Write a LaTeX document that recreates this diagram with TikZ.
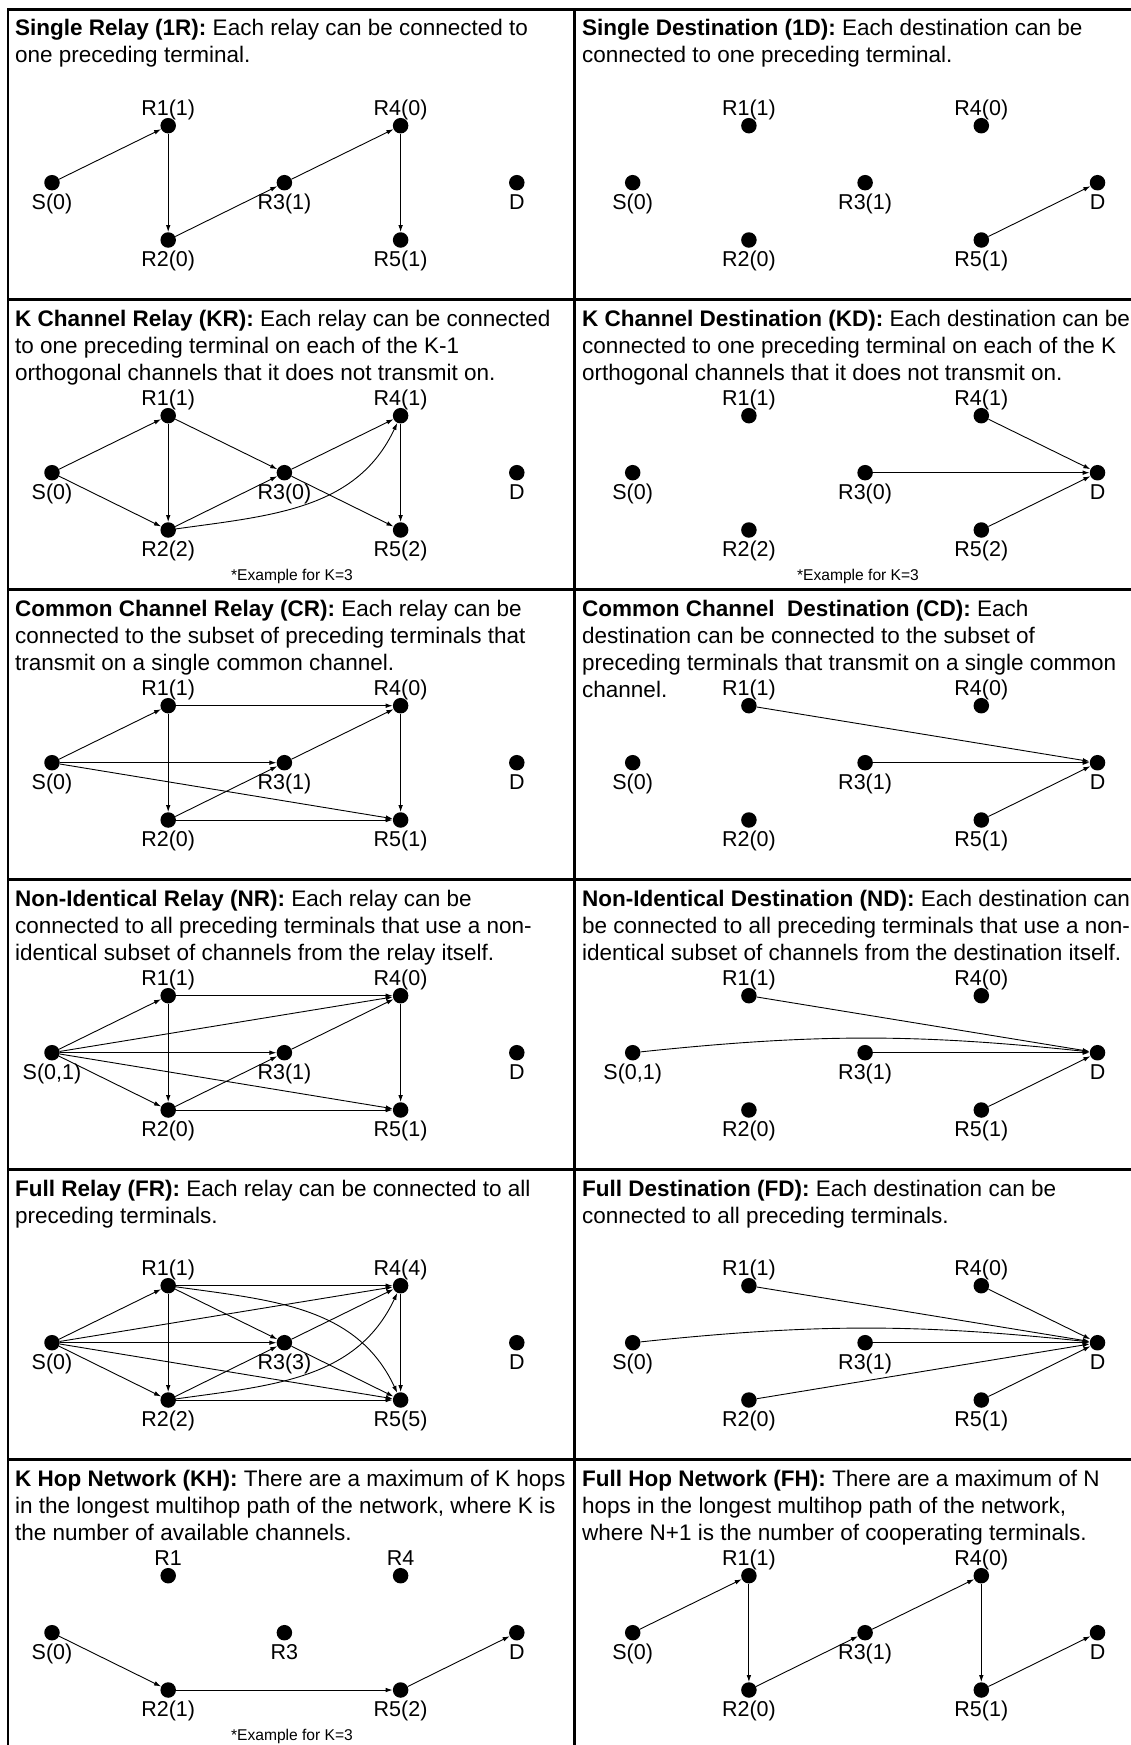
\documentclass[tikz,border=0pt]{standalone}
\usepackage{fontspec}
\setmainfont{Liberation Sans}
\usetikzlibrary{arrows.meta}
\tikzset{
 dot/.style={circle,fill=black,inner sep=0pt,minimum size=15.5pt},
 lbl/.style={anchor=base,inner sep=0pt,font=\fontsize{21.5}{25}\selectfont},
 note/.style={anchor=base,inner sep=0pt,font=\fontsize{15.6}{18}\selectfont},
 ttl/.style={anchor=base west,inner sep=0pt,font=\fontsize{22.5}{27}\selectfont},
 ar/.style={line width=0.9pt,-{Latex[length=7pt,width=4.6pt]}},
 frame/.style={line width=2.2pt}
}
\newcommand\mknodes[9]{%
 \node[dot] (#1S) at (#2,#3+173.2) {};
 \node[dot] (#1R1) at (#2+116.2,#3+116.2) {};
 \node[dot] (#1R2) at (#2+116.2,#3+230.5) {};
 \node[dot] (#1R3) at (#2+232.4,#3+173.2) {};
 \node[dot] (#1R4) at (#2+348.6,#3+116.2) {};
 \node[dot] (#1R5) at (#2+348.6,#3+230.5) {};
 \node[dot] (#1D) at (#2+464.8,#3+173.2) {};
 \node[lbl] (#1Sl) at ([yshift=-26.6pt]#1S.center) {#4};
 \node[lbl] (#1R1l) at ([yshift=10.7pt]#1R1.center) {#5};
 \node[lbl] (#1R2l) at ([yshift=-26.6pt]#1R2.center) {#6};
 \node[lbl] (#1R3l) at ([yshift=-26.6pt]#1R3.center) {#7};
 \node[lbl] (#1R4l) at ([yshift=10.7pt]#1R4.center) {#8};
 \node[lbl] (#1R5l) at ([yshift=-26.6pt]#1R5.center) {#9};
 \node[lbl] (#1Dl) at ([yshift=-26.6pt]#1D.center) {D};
}
\newcommand\ttlnode[4]{\node[ttl] (#1) at (#2,#3) {\vtop{#4}};}
\begin{document}
\begin{tikzpicture}[x=1pt,y=-1pt]
\useasboundingbox (0,0) rectangle (1130,1745);
% frames
\draw[frame] (1140,9.5) -- (8,9.5) -- (8,1755);
\draw[frame] (574.5,9.5) -- (574.5,1755);
\foreach \k in {1,...,5} \draw[frame] (8,9.5+290*\k) -- (1140,9.5+290*\k);
% titles
\ttlnode{t1}{15}{36}{\hbox{\textbf{Single Relay (1R):} Each relay can be connected to}\hbox{one preceding terminal.}}
\ttlnode{t2}{582}{36}{\hbox{\textbf{Single Destination (1D):} Each destination can be}\hbox{connected to one preceding terminal.}}
\ttlnode{t3}{15}{326}{\hbox{\textbf{K Channel Relay (KR):} Each relay can be connected}\hbox{to one preceding terminal on each of the K-1}\hbox{orthogonal channels that it does not transmit on.}}
\ttlnode{t4}{582}{326}{\hbox{\textbf{K Channel Destination (KD):} Each destination can be}\hbox{connected to one preceding terminal on each of the K}\hbox{orthogonal channels that it does not transmit on.}}
\ttlnode{t5}{15}{616}{\hbox{\textbf{Common Channel Relay (CR):} Each relay can be}\hbox{connected to the subset of preceding terminals that}\hbox{transmit on a single common channel.}}
\ttlnode{t6}{582}{616}{\hbox{\textbf{Common Channel\ \ Destination (CD):} Each}\hbox{destination can be connected to the subset of}\hbox{preceding terminals that transmit on a single common}\hbox{channel.}}
\ttlnode{t7}{15}{906}{\hbox{\textbf{Non-Identical Relay (NR):} Each relay can be}\hbox{connected to all preceding terminals that use a non-}\hbox{identical subset of channels from the relay itself.}}
\ttlnode{t8}{582}{906}{\hbox{\textbf{Non-Identical Destination (ND):} Each destination can}\hbox{be connected to all preceding terminals that use a non-}\hbox{identical subset of channels from the destination itself.}}
\ttlnode{t9}{15}{1196}{\hbox{\textbf{Full Relay (FR):} Each relay can be connected to all}\hbox{preceding terminals.}}
\ttlnode{t10}{582}{1196}{\hbox{\textbf{Full Destination (FD):} Each destination can be}\hbox{connected to all preceding terminals.}}
\ttlnode{t11}{15}{1486}{\hbox{\textbf{K Hop Network (KH):} There are a maximum of K hops}\hbox{in the longest multihop path of the network, where K is}\hbox{the number of available channels.}}
\ttlnode{t12}{582}{1486}{\hbox{\textbf{Full Hop Network (FH):} There are a maximum of N}\hbox{hops in the longest multihop path of the network,}\hbox{where N+1 is the number of cooperating terminals.}}
% row 1
\mknodes{a}{52}{9.5}{S(0)}{R1(1)}{R2(0)}{R3(1)}{R4(0)}{R5(1)}
\draw[ar] (aS) -- (aR1);
\draw[ar] (aR1) -- (aR2);
\draw[ar] (aR2) -- (aR3);
\draw[ar] (aR3) -- (aR4);
\draw[ar] (aR4) -- (aR5);
\mknodes{b}{632.7}{9.5}{S(0)}{R1(1)}{R2(0)}{R3(1)}{R4(0)}{R5(1)}
\draw[ar] (bR5) -- (bD);
% row 2
\mknodes{c}{52}{299.5}{S(0)}{R1(1)}{R2(2)}{R3(0)}{R4(1)}{R5(2)}
\draw[ar] (cS) -- (cR1);
\draw[ar] (cS) -- (cR2);
\draw[ar] (cR1) -- (cR2);
\draw[ar] (cR1) -- (cR3);
\draw[ar] (cR2) -- (cR3);
\draw[ar] (cR2) to[out=8,in=-115] (cR4);
\draw[ar] (cR3) -- (cR4);
\draw[ar] (cR3) -- (cR5);
\draw[ar] (cR4) -- (cR5);
\node[note] (n1) at (292,580) {*Example for K=3};
\mknodes{d}{632.7}{299.5}{S(0)}{R1(1)}{R2(2)}{R3(0)}{R4(1)}{R5(2)}
\draw[ar] (dR4) -- (dD);
\draw[ar] (dR3) -- (dD);
\draw[ar] (dR5) -- (dD);
\node[note] (n2) at (858,580) {*Example for K=3};
% row 3
\mknodes{e}{52}{589.5}{S(0)}{R1(1)}{R2(0)}{R3(1)}{R4(0)}{R5(1)}
\draw[ar] (eS) -- (eR1);
\draw[ar] (eS) -- (eR3);
\draw[ar] (eS) -- (eR5);
\draw[ar] (eR1) -- (eR2);
\draw[ar] (eR1) -- (eR4);
\draw[ar] (eR2) -- (eR3);
\draw[ar] (eR2) -- (eR5);
\draw[ar] (eR3) -- (eR4);
\draw[ar] (eR4) -- (eR5);
\mknodes{f}{632.7}{589.5}{S(0)}{R1(1)}{R2(0)}{R3(1)}{R4(0)}{R5(1)}
\draw[ar] (fR1) -- (fD);
\draw[ar] (fR3) -- (fD);
\draw[ar] (fR5) -- (fD);
% row 4
\mknodes{g}{52}{879.5}{S(0,1)}{R1(1)}{R2(0)}{R3(1)}{R4(0)}{R5(1)}
\draw[ar] (gS) -- (gR1);
\draw[ar] (gS) -- (gR2);
\draw[ar] (gS) -- (gR3);
\draw[ar] (gS) -- (gR4);
\draw[ar] (gS) -- (gR5);
\draw[ar] (gR1) -- (gR2);
\draw[ar] (gR1) -- (gR4);
\draw[ar] (gR2) -- (gR3);
\draw[ar] (gR2) -- (gR5);
\draw[ar] (gR3) -- (gR4);
\draw[ar] (gR4) -- (gR5);
\mknodes{h}{632.7}{879.5}{S(0,1)}{R1(1)}{R2(0)}{R3(1)}{R4(0)}{R5(1)}
\draw[ar] (hS) to[bend left=6] (hD);
\draw[ar] (hR1) -- (hD);
\draw[ar] (hR3) -- (hD);
\draw[ar] (hR5) -- (hD);
% row 5
\mknodes{i}{52}{1169.5}{S(0)}{R1(1)}{R2(2)}{R3(3)}{R4(4)}{R5(5)}
\draw[ar] (iS) -- (iR1);
\draw[ar] (iS) -- (iR2);
\draw[ar] (iS) -- (iR3);
\draw[ar] (iS) -- (iR4);
\draw[ar] (iS) -- (iR5);
\draw[ar] (iR1) -- (iR2);
\draw[ar] (iR1) -- (iR3);
\draw[ar] (iR1) -- (iR4);
\draw[ar] (iR1) to[out=-8,in=115] (iR5);
\draw[ar] (iR2) -- (iR3);
\draw[ar] (iR2) to[out=8,in=-115] (iR4);
\draw[ar] (iR2) -- (iR5);
\draw[ar] (iR3) -- (iR4);
\draw[ar] (iR3) -- (iR5);
\draw[ar] (iR4) -- (iR5);
\mknodes{j}{632.7}{1169.5}{S(0)}{R1(1)}{R2(0)}{R3(1)}{R4(0)}{R5(1)}
\draw[ar] (jS) to[bend left=6] (jD);
\draw[ar] (jR1) -- (jD);
\draw[ar] (jR2) -- (jD);
\draw[ar] (jR3) -- (jD);
\draw[ar] (jR4) -- (jD);
\draw[ar] (jR5) -- (jD);
% row 6
\mknodes{k}{52}{1459.5}{S(0)}{R1}{R2(1)}{R3}{R4}{R5(2)}
\draw[ar] (kS) -- (kR2);
\draw[ar] (kR2) -- (kR5);
\draw[ar] (kR5) -- (kD);
\node[note] (n3) at (292,1740) {*Example for K=3};
\mknodes{l}{632.7}{1459.5}{S(0)}{R1(1)}{R2(0)}{R3(1)}{R4(0)}{R5(1)}
\draw[ar] (lS) -- (lR1);
\draw[ar] (lR1) -- (lR2);
\draw[ar] (lR2) -- (lR3);
\draw[ar] (lR3) -- (lR4);
\draw[ar] (lR4) -- (lR5);
\draw[ar] (lR5) -- (lD);
\end{tikzpicture}
\end{document}
